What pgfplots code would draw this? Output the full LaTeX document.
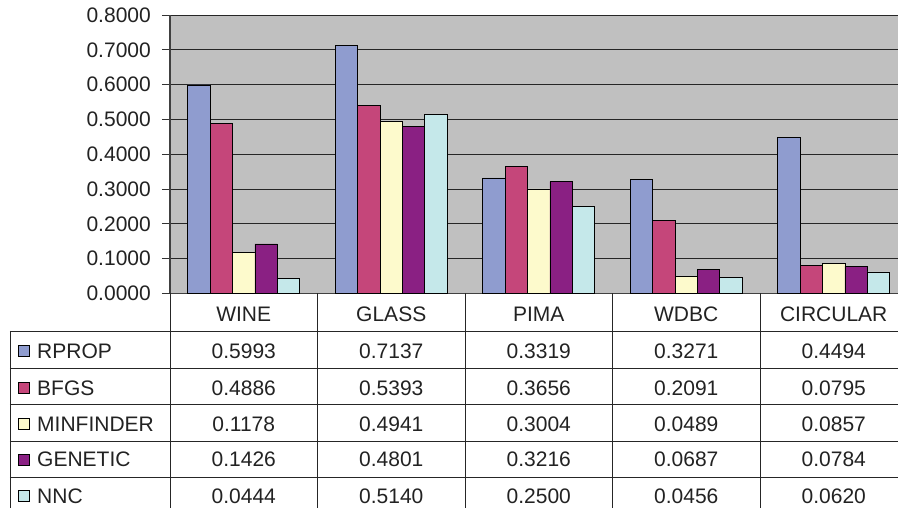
\documentclass[border=0pt]{standalone}
\usepackage{pgfplots}
\pgfplotsset{compat=1.18}
\usepackage{fontspec}
\setmainfont{Liberation Sans}
\definecolor{cR}{HTML}{8F9CCF}
\definecolor{cB}{HTML}{C5467A}
\definecolor{cM}{HTML}{FDFACC}
\definecolor{cG}{HTML}{8A2083}
\definecolor{cN}{HTML}{C5E8EA}
\definecolor{bgGray}{HTML}{C0C0C0}
\definecolor{txt}{HTML}{222222}
\begin{document}
\fontsize{21}{25}\selectfont
\begin{tikzpicture}[text=txt]
\useasboundingbox (-170pt,-214.5pt) rectangle (728pt,293.5pt);
\begin{axis}[
  scale only axis, width=737.5pt, height=278.5pt,
  at={(0pt,0pt)}, anchor=south west,
  xmin=0, xmax=5, ymin=0, ymax=0.8,
  ybar=0pt, bar width=22.4pt,
  axis x line*=bottom, axis y line*=left,
  xtick={0.5,1.5,2.5,3.5,4.5},
  xticklabels={WINE,GLASS,PIMA,WDBC,CIRCULAR},
  x tick style={draw=none},
  xticklabel style={anchor=center, yshift=-12.5pt},
  ytick={0,0.1,0.2,0.3,0.4,0.5,0.6,0.7,0.8},
  yticklabel style={xshift=-4pt, /pgf/number format/.cd, fixed, fixed zerofill, precision=4, assume math mode=true},
  ymajorgrids, grid style={black!85, line width=0.9pt},
  axis background/.style={fill=bgGray},
  tick align=outside, major tick length=8pt,
  ytick style={black!80, line width=0.9pt},
  axis line style={black!75, line width=1.1pt},
  every axis plot/.append style={draw=black, line width=0.7pt},
]
\addplot[fill=cR] coordinates {(0.5,0.5993) (1.5,0.7137) (2.5,0.3319) (3.5,0.3271) (4.5,0.4494)};
\addplot[fill=cB] coordinates {(0.5,0.4886) (1.5,0.5393) (2.5,0.3656) (3.5,0.2091) (4.5,0.0795)};
\addplot[fill=cM] coordinates {(0.5,0.1178) (1.5,0.4941) (2.5,0.3004) (3.5,0.0489) (4.5,0.0857)};
\addplot[fill=cG] coordinates {(0.5,0.1426) (1.5,0.4801) (2.5,0.3216) (3.5,0.0687) (4.5,0.0784)};
\addplot[fill=cN] coordinates {(0.5,0.0444) (1.5,0.5140) (2.5,0.2500) (3.5,0.0456) (4.5,0.0620)};
\end{axis}
% data table grid
\begin{scope}[line width=0.9pt, draw=black!85]
\draw (0pt,0pt) -- (0pt,-214.5pt);
\foreach \x in {147.5,295,442.5,590} \draw (\x pt,0pt) -- (\x pt,-214.5pt);
\draw (-160pt,-37.5pt) -- (-160pt,-214.5pt);
\foreach \y in {37.5,74.5,110.5,147.5,183.5} \draw (-160pt,-\y pt) -- (728pt,-\y pt);
\end{scope}
% legend keys and names
\foreach \c/\n/\y in {cR/RPROP/57.5, cB/BFGS/94.5, cM/MINFINDER/130.5, cG/GENETIC/166, cN/NNC/202.5}{
  \draw[fill=\c, draw=black, line width=0.7pt] (-152pt,-\y pt-5.5pt) rectangle (-141pt,-\y pt+5.5pt);
  \node[anchor=west, inner sep=0pt] at (-133pt,-\y pt) {\n};
}
% values
\foreach \x/\a/\b/\c/\d/\e in {
  73.75/0.5993/0.4886/0.1178/0.1426/0.0444,
  221.25/0.7137/0.5393/0.4941/0.4801/0.5140,
  368.75/0.3319/0.3656/0.3004/0.3216/0.2500,
  516.25/0.3271/0.2091/0.0489/0.0687/0.0456,
  663.75/0.4494/0.0795/0.0857/0.0784/0.0620}{
  \node[inner sep=0pt] at (\x pt,-57.5pt) {\a};
  \node[inner sep=0pt] at (\x pt,-94.5pt) {\b};
  \node[inner sep=0pt] at (\x pt,-130.5pt) {\c};
  \node[inner sep=0pt] at (\x pt,-166pt) {\d};
  \node[inner sep=0pt] at (\x pt,-202.5pt) {\e};
}
\end{tikzpicture}
\end{document}
